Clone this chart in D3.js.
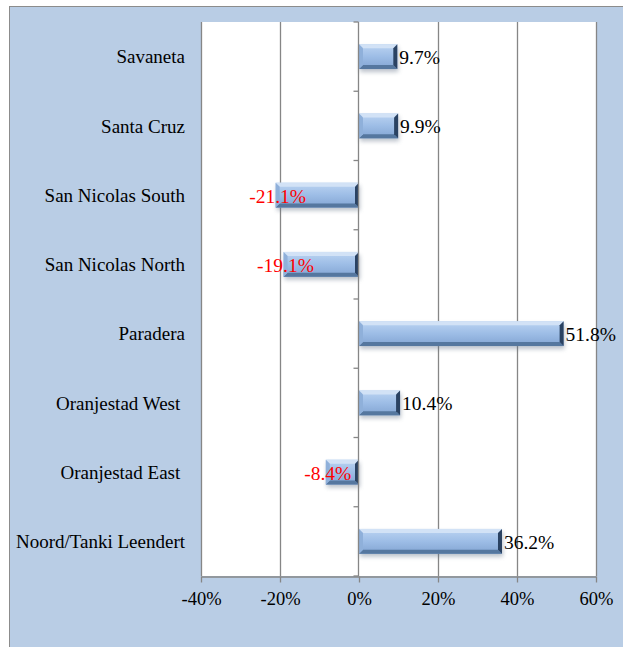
<!DOCTYPE html>
<html>
<head>
<meta charset="utf-8">
<script src="https://cdn.jsdelivr.net/npm/d3@7"></script>
<style>
html,body{margin:0;padding:0;background:#fff;}
svg{display:block;}
svg text{font-family:"Liberation Serif",Tinos,"Times New Roman",Times,"DejaVu Serif",serif !important;}
</style>
</head>
<body>
<script>
const categories = ["Savaneta","Santa Cruz","San Nicolas South","San Nicolas North","Paradera","Oranjestad West ","Oranjestad East ","Noord/Tanki Leendert"];
const values = [9.7, 9.9, -21.1, -19.1, 51.8, 10.4, -8.4, 36.2];
const tickValues = [-40, -20, 0, 20, 40, 60];

(function () {
const W = 623, H = 647;
const FONT = '"Liberation Serif", Tinos, "Times New Roman", Times, "DejaVu Serif", serif';
const svg = d3.select("body").append("svg").attr("width", W).attr("height", H).attr("font-family", FONT);

// frame
svg.append("rect").attr("x", 9).attr("y", 6).attr("width", W - 9).attr("height", H - 6)
  .attr("fill", "#b9cde5");
svg.append("line").attr("x1", 9).attr("x2", W).attr("y1", 6.5).attr("y2", 6.5).attr("stroke", "#8c8c8c");
svg.append("line").attr("x1", 9.5).attr("x2", 9.5).attr("y1", 6).attr("y2", H).attr("stroke", "#8c8c8c");

const pL = 201, pR = 596, pT = 22, pB = 576;
const x = d3.scaleLinear().domain([-40, 60]).range([pL, pR]);
const y = d3.scaleBand().domain(categories).range([pT, pB]).paddingInner(0.64).paddingOuter(0.32);

// plot area
svg.append("rect").attr("x", pL).attr("y", pT).attr("width", pR - pL).attr("height", pB - pT).attr("fill", "#fff");

// gridlines
svg.append("g").selectAll("line").data(tickValues.filter(d => d !== 0)).join("line")
  .attr("x1", d => Math.round(x(d)) + 0.5).attr("x2", d => Math.round(x(d)) + 0.5)
  .attr("y1", pT).attr("y2", pB)
  .attr("stroke", "#868686").attr("stroke-width", 1.3);

// bottom axis
const ax = svg.append("g").attr("transform", `translate(0,${pB + 0.5})`)
  .call(d3.axisBottom(x).tickValues(tickValues).tickFormat(d => d + "%").tickSize(6).tickSizeOuter(0).tickPadding(9));
ax.attr("font-family", FONT).attr("font-size", "18.5px");
ax.select(".domain").attr("stroke", "#868686").attr("stroke-width", 1.3);
ax.selectAll(".tick line").attr("stroke", "#868686").attr("stroke-width", 1.3);
ax.selectAll(".tick text").attr("fill", "#000");

// defs
const defs = svg.append("defs");
const grad = defs.append("linearGradient").attr("id", "barGrad").attr("x1", 0).attr("x2", 0).attr("y1", 0).attr("y2", 1);
grad.append("stop").attr("offset", "0%").attr("stop-color", "#bcd4f2");
grad.append("stop").attr("offset", "50%").attr("stop-color", "#9dbde6");
grad.append("stop").attr("offset", "100%").attr("stop-color", "#82a4d2");
const blur = defs.append("filter").attr("id", "shadow").attr("x", "-10%").attr("y", "-50%").attr("width", "120%").attr("height", "200%");
blur.append("feGaussianBlur").attr("stdDeviation", 2.2);

// bars
const bh = y.bandwidth();
const b = 4;
const bars = svg.append("g").selectAll("g").data(categories.map((c, i) => ({c, v: values[i]}))).join("g");
bars.each(function(d) {
  const g = d3.select(this);
  const x0 = Math.min(x(0), x(d.v)), x1 = Math.max(x(0), x(d.v));
  const y0 = y(d.c), y1 = y0 + bh;
  g.append("rect").attr("x", x0 + 1).attr("y", y0 + 3).attr("width", x1 - x0).attr("height", bh)
    .attr("fill", "#5a6b80").attr("opacity", 0.4).attr("filter", "url(#shadow)");
  g.append("rect").attr("x", x0).attr("y", y0).attr("width", x1 - x0).attr("height", bh).attr("fill", "url(#barGrad)");
  const poly = (pts, fill) => g.append("polygon").attr("points", pts.map(p => p.join(",")).join(" ")).attr("fill", fill);
  poly([[x0, y0], [x1, y0], [x1 - b, y0 + b], [x0 + b, y0 + b]], "#d2e2f6");
  poly([[x0, y1], [x1, y1], [x1 - b, y1 - b], [x0 + b, y1 - b]], "#55779f");
  poly([[x0, y0], [x0, y1], [x0 + b, y1 - b], [x0 + b, y0 + b]], "#8fb0da");
  poly([[x1, y0], [x1, y1], [x1 - b, y1 - b], [x1 - b, y0 + b]], "#2a4262");
});

// zero (category) axis
const zx = Math.round(x(0)) - 0.5;
svg.append("line").attr("x1", zx).attr("x2", zx).attr("y1", pT).attr("y2", pB).attr("stroke", "#868686").attr("stroke-width", 1.3);
const step = (pB - pT) / categories.length;
svg.append("g").selectAll("line").data(d3.range(categories.length + 1)).join("line")
  .attr("x1", zx - 5).attr("x2", zx).attr("y1", d => pT + d * step).attr("y2", d => pT + d * step)
  .attr("stroke", "#868686").attr("stroke-width", 1.3);

// category labels
svg.append("g").selectAll("text").data(categories).join("text")
  .attr("x", 185).attr("y", d => y(d) + bh / 2).attr("dy", "0.35em")
  .attr("text-anchor", "end").attr("font-size", "19px").attr("fill", "#000")
  .style("white-space", "pre").text(d => d);

// value labels
svg.append("g").selectAll("text").data(categories.map((c, i) => ({c, v: values[i]}))).join("text")
  .attr("x", d => x(d.v) + 2)
  .attr("y", d => y(d.c) + bh / 2).attr("dy", "0.38em")
  .attr("text-anchor", d => d.v >= 0 ? "start" : "middle")
  .attr("font-size", "19.5px").attr("fill", d => d.v >= 0 ? "#000" : "#ff0000")
  .text(d => d.v.toFixed(1) + "%");
})();
</script>
</body>
</html>
